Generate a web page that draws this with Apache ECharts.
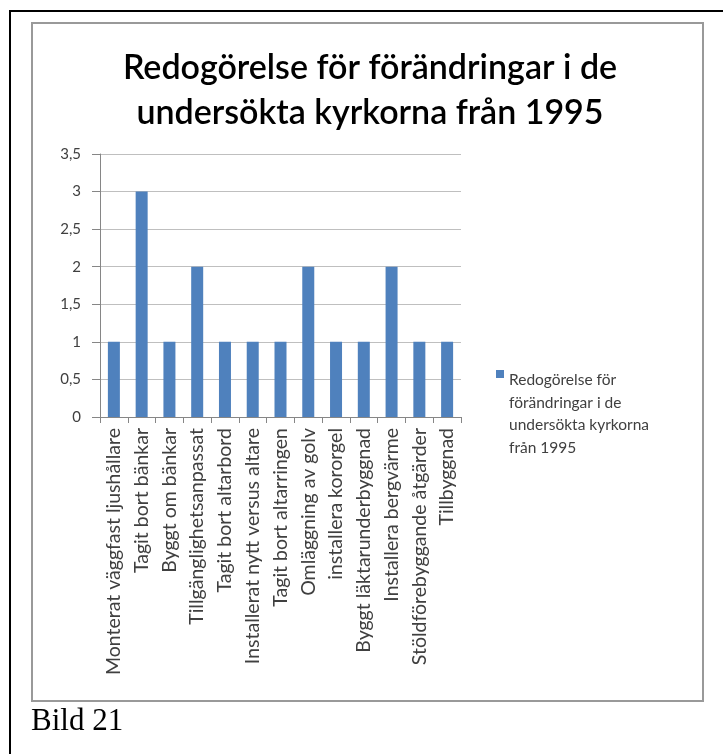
<!DOCTYPE html>
<html>
<head>
<meta charset="utf-8">
<script src="https://cdn.jsdelivr.net/npm/echarts@6/dist/echarts.min.js"></script>
<style>
html, body { margin: 0; padding: 0; background: #fff; }
#chart { width: 723px; height: 754px; }
</style>
</head>
<body>
<div id="chart"></div>
<script>
var categories = [
    'Monterat väggfast ljushållare',
    'Tagit bort bänkar',
    'Byggt om bänkar',
    'Tillgänglighetsanpassat',
    'Tagit bort altarbord',
    'Installerat nytt versus altare',
    'Tagit bort altarringen',
    'Omläggning av golv',
    'installera kororgel',
    'Byggt läktarunderbyggnad',
    'Installera bergvärme',
    'Stöldförebyggande åtgärder',
    'Tillbyggnad'
]
var values = [1, 3, 1, 2, 1, 1, 1, 2, 1, 1, 2, 1, 1]
var seriesName = 'Redogörelse för förändringar i de undersökta kyrkorna från 1995'
var legendLines = ['Redogörelse för', 'förändringar i de', 'undersökta kyrkorna', 'från 1995']

var font = 'Lato, "Open Sans", sans-serif'

var myChart = echarts.init(document.getElementById('chart'))

var option = {
    animation: false,
    title: {
        text: 'Redogörelse för förändringar i de\nundersökta kyrkorna från 1995',
        left: 365,
        textAlign: 'center',
        top: 41,
        textStyle: {
            fontFamily: font,
            fontSize: 34,
            fontWeight: 600,
            color: '#000',
            lineHeight: 45
        }
    },
    legend: {
        left: 491,
        top: 364,
        orient: 'vertical',
        itemWidth: 8,
        itemHeight: 88,
        itemGap: 0,
        icon: 'path://M0,0h8v8h-8zM0,88',
        formatter: function () { return legendLines.join('\n') },
        textStyle: {
            fontFamily: font,
            fontSize: 15.5,
            color: '#404040',
            lineHeight: 22.5
        }
    },
    grid: {
        left: 100,
        right: 262,
        top: 154,
        bottom: 337
    },
    xAxis: {
        type: 'category',
        data: categories,
        axisLine: { lineStyle: { color: '#868686' } },
        axisTick: { show: true, length: 6, lineStyle: { color: '#868686' } },
        axisLabel: {
            rotate: 90,
            interval: 0,
            margin: 11,
            fontFamily: font,
            fontSize: 19.5,
            color: '#404040'
        }
    },
    yAxis: {
        type: 'value',
        min: 0,
        max: 3.5,
        interval: 0.5,
        axisLine: { show: true, lineStyle: { color: '#868686' } },
        axisTick: { show: true, length: 8, lineStyle: { color: '#868686' } },
        splitLine: { lineStyle: { color: '#bfbfbf' } },
        axisLabel: {
            margin: 19,
            fontFamily: font,
            fontSize: 15,
            color: '#404040',
            formatter: function (v) { return String(v).replace('.', ',') }
        }
    },
    series: [{
        name: seriesName,
        type: 'bar',
        data: values,
        barWidth: 12,
        itemStyle: { color: '#4f81bd' }
    }],
    graphic: [
        {
            type: 'rect',
            shape: { x: 10, y: 11, width: 730, height: 760 },
            style: { fill: null, stroke: '#000', lineWidth: 2 }
        },
        {
            type: 'rect',
            shape: { x: 32, y: 23, width: 671, height: 678 },
            style: { fill: null, stroke: '#999', lineWidth: 2 }
        },
        {
            type: 'text',
            left: 31,
            top: 706,
            style: {
                text: 'Bild 21',
                font: '31px "Liberation Serif", "Times New Roman", serif',
                fill: '#000'
            }
        }
    ]
}

myChart.setOption(option)
</script>
</body>
</html>
